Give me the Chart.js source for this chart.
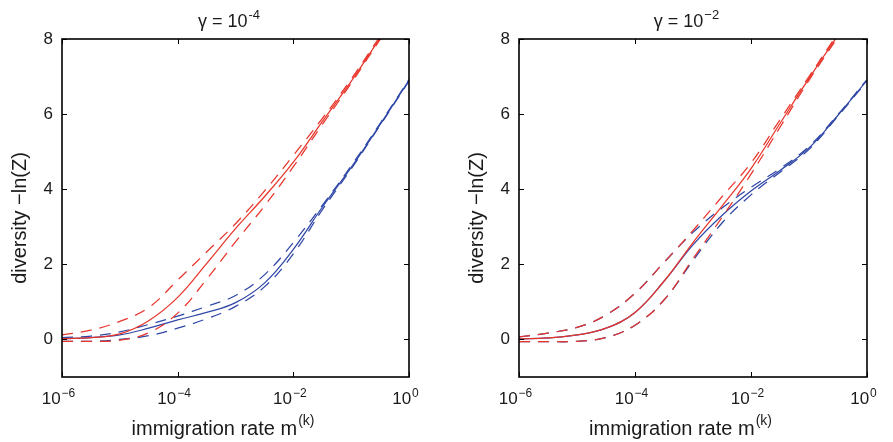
<!DOCTYPE html>
<html>
<head>
<meta charset="utf-8">
<script src="https://cdn.jsdelivr.net/npm/chart.js@4.4.1/dist/chart.umd.min.js"></script>
<style>
    body { margin: 0; background: #fff; }
    #wrap { position: relative; width: 893px; height: 442px; }
    .panel { position: absolute; top: 0; height: 442px; }
</style>
</head>
<body>
<div id="wrap">
    <div class="panel" style="left:0;width:446px"><canvas id="gammaSmall" width="446" height="442"></canvas></div>
    <div class="panel" style="left:446px;width:447px"><canvas id="gammaLarge" width="447" height="442"></canvas></div>
</div>
<script>
// immigration rate grid (half decades)
var rates = [1e-6, 3.16e-6, 1e-5, 3.16e-5, 1e-4, 3.16e-4, 1e-3, 3.16e-3, 1e-2, 3.16e-2, 1e-1, 3.16e-1, 1];
var xTicks = [1e-6, 1e-4, 1e-2, 1];
var xTickExp = ['\u22126', '\u22124', '\u22122', '0'];
var yTicks = [0, 2, 4, 6, 8];

// gamma = 10^-4
var redSolidA = [0.02, 0.05, 0.15, 0.5, 1.12, 2.02, 2.95, 3.8, 4.72, 5.8, 6.87, 8.02, 9.1];
var redUpA    = [0.12, 0.25, 0.48, 0.85, 1.58, 2.33, 3.08, 3.95, 4.9, 5.88, 6.93, 8.07, 9.15];
var redLowA   = [-0.05, -0.05, -0.02, 0.18, 0.7, 1.6, 2.6, 3.55, 4.6, 5.72, 6.82, 7.98, 9.05];
var blueSolidA = [0.02, 0.05, 0.12, 0.3, 0.52, 0.72, 0.98, 1.5, 2.4, 3.52, 4.58, 5.72, 6.9];
var blueUpA    = [0.05, 0.09, 0.2, 0.4, 0.62, 0.88, 1.17, 1.72, 2.58, 3.57, 4.62, 5.75, 6.92];
var blueLowA   = [-0.05, -0.05, 0.0, 0.1, 0.3, 0.55, 0.88, 1.4, 2.28, 3.45, 4.54, 5.7, 6.88];

// gamma = 10^-2
var redSolidB = [0.01, 0.04, 0.12, 0.3, 0.72, 1.55, 2.58, 3.55, 4.55, 5.75, 6.95, 8.1, 9.2];
var redUpB    = [0.07, 0.17, 0.32, 0.65, 1.23, 2.05, 2.9, 3.8, 4.7, 5.85, 7.0, 8.15, 9.25];
var redLowB   = [-0.06, -0.06, -0.05, 0.05, 0.38, 1.05, 2.15, 3.25, 4.4, 5.65, 6.9, 8.05, 9.15];
var blueSolidB = [0.01, 0.04, 0.12, 0.3, 0.72, 1.55, 2.52, 3.3, 3.95, 4.5, 5.1, 5.97, 6.9];
var blueUpB    = [0.07, 0.17, 0.32, 0.65, 1.23, 2.05, 2.85, 3.5, 4.05, 4.55, 5.14, 5.99, 6.92];
var blueLowB   = [-0.06, -0.06, -0.05, 0.05, 0.38, 1.05, 2.1, 3.1, 3.85, 4.45, 5.06, 5.95, 6.88];

var RED = '#e8352b';
var BLUE = '#2f47a6';
var FONT = '"Liberation Sans", Arial, Helvetica, sans-serif';

function points(ys) {
    var out = [];
    for (var i in rates) out.push({x: rates[i], y: ys[i]});
    return out;
}

function line(ys, color, dashed) {
    return {
        data: points(ys),
        borderColor: color,
        borderWidth: 1.25,
        borderDash: dashed ? [11, 8] : [],
        pointRadius: 0,
        tension: 0.4,
        fill: false
    };
}

// draws frame, inward ticks, x labels with exponents and titles
var frame = {
    id: 'frame',
    afterDraw: function(chart) {
        var o = chart.options.plugins.frame;
        var ctx = chart.ctx;
        var a = chart.chartArea;
        var xs = chart.scales.x, ys = chart.scales.y;
        ctx.save();
        ctx.strokeStyle = '#000';
        ctx.lineWidth = 1.6;
        ctx.strokeRect(a.left, a.top, a.right - a.left, a.bottom - a.top);
        ctx.lineWidth = 1;
        ctx.beginPath();
        for (var i in xTicks) {
            var px = Math.round(xs.getPixelForValue(xTicks[i])) + 0.5;
            ctx.moveTo(px, a.bottom); ctx.lineTo(px, a.bottom - 5);
            ctx.moveTo(px, a.top); ctx.lineTo(px, a.top + 5);
        }
        for (var j in yTicks) {
            var py = Math.round(ys.getPixelForValue(yTicks[j])) + 0.5;
            ctx.moveTo(a.left, py); ctx.lineTo(a.left + 5, py);
            ctx.moveTo(a.right, py); ctx.lineTo(a.right - 5, py);
        }
        ctx.stroke();

        ctx.fillStyle = '#1a1a1a';
        ctx.textBaseline = 'alphabetic';
        ctx.textAlign = 'left';
        // x tick labels 10^n
        for (var k in xTicks) {
            var cx = xs.getPixelForValue(xTicks[k]) - 4;
            ctx.font = '17px ' + FONT;
            var w1 = ctx.measureText('10').width;
            ctx.font = '12px ' + FONT;
            var w2 = ctx.measureText(xTickExp[k]).width;
            var x0 = cx - (w1 + w2) / 2;
            ctx.font = '17px ' + FONT;
            ctx.fillText('10', x0, 404);
            ctx.font = '12px ' + FONT;
            ctx.fillText(xTickExp[k], x0 + w1 + 1, 397);
        }
        var mid = (a.left + a.right) / 2;
        // x title
        ctx.font = '20px ' + FONT;
        var t1 = 'immigration rate m';
        var tw1 = ctx.measureText(t1).width;
        ctx.font = '14px ' + FONT;
        var tw2 = ctx.measureText('(k)').width;
        var tx = mid - 13 - (tw1 + tw2) / 2;
        ctx.font = '20px ' + FONT;
        ctx.fillText(t1, tx, 435);
        ctx.font = '14px ' + FONT;
        ctx.fillText('(k)', tx + tw1 + 1, 425);
        // title gamma = 10^n
        ctx.font = '18px ' + FONT;
        var g1 = '\u03b3 = 10';
        var gw1 = ctx.measureText(g1).width;
        ctx.font = '13px ' + FONT;
        var gw2 = ctx.measureText(o.exp).width;
        var gx = mid - 7 - (gw1 + gw2) / 2;
        ctx.font = '18px ' + FONT;
        ctx.fillText(g1, gx, 27);
        ctx.font = '13px ' + FONT;
        ctx.fillText(o.exp, gx + gw1 + 1, 19);
        // y title
        ctx.translate(o.yTitleX, 218);
        ctx.rotate(-Math.PI / 2);
        ctx.font = '20px ' + FONT;
        ctx.textAlign = 'center';
        ctx.textBaseline = 'middle';
        ctx.fillText('diversity \u2212ln(Z)', 0, 0);
        ctx.restore();
    }
};

function makePanel(id, sets, leftWidth, rightPad, exp, yTitleX) {
    var ctx = document.getElementById(id);
    return new Chart(ctx, {
        type: 'line',
        data: {
            datasets: [
                line(sets[0], RED, false),
                line(sets[1], RED, true),
                line(sets[2], RED, true),
                line(sets[3], BLUE, false),
                line(sets[4], BLUE, true),
                line(sets[5], BLUE, true)
            ]
        },
        options: {
            responsive: false,
            animation: false,
            devicePixelRatio: 1,
            layout: { padding: { left: 0, right: rightPad, top: 39, bottom: 0 } },
            plugins: {
                legend: { display: false },
                tooltip: { enabled: false },
                frame: { exp: exp, yTitleX: yTitleX }
            },
            scales: {
                x: {
                    type: 'logarithmic',
                    min: 1e-6,
                    max: 1,
                    grid: { display: false },
                    border: { display: false },
                    ticks: { display: false },
                    afterFit: function(s) { s.height = 65; }
                },
                y: {
                    min: -1,
                    max: 8,
                    grid: { display: false, drawTicks: false },
                    border: { display: false },
                    afterBuildTicks: function(s) {
                        s.ticks = yTicks.map(function(v) { return {value: v}; });
                    },
                    ticks: {
                        padding: 9,
                        color: '#1a1a1a',
                        font: { family: FONT, size: 17 }
                    },
                    afterFit: function(s) { s.width = leftWidth; }
                }
            }
        },
        plugins: [frame]
    });
}

makePanel('gammaSmall', [redSolidA, redUpA, redLowA, blueSolidA, blueUpA, blueLowA], 62, 37, '-4', 20);
makePanel('gammaLarge', [redSolidB, redUpB, redLowB, blueSolidB, blueUpB, blueLowB], 73, 26, '\u22122', 31);
</script>
</body>
</html>
